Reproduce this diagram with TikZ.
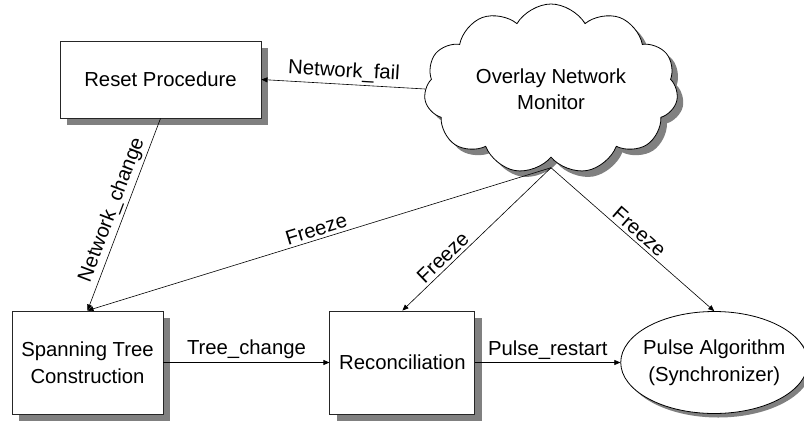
\documentclass[tikz,border=0pt]{standalone}
\usepackage{fontspec}
\setmainfont{Liberation Sans}
\usetikzlibrary{shapes.geometric, shapes.symbols, arrows.meta, positioning, shadows}

\tikzstyle{block} = [rectangle, align=center, draw=black!85, fill=white, line width=0.9pt,
                     inner sep=0pt, font=\fontsize{20.3}{26.5}\selectfont,
                     drop shadow={shadow xshift=7pt, shadow yshift=-7pt, fill=gray, opacity=1}]
\tikzstyle{monitor} = [cloud, cloud puffs=11, cloud puff arc=120, cloud ignores aspect,
                       minimum width=254pt, minimum height=170pt, align=center,
                       draw=black, fill=white, line width=0.8pt, inner sep=0pt,
                       font=\fontsize{20.3}{25.5}\selectfont,
                       drop shadow={shadow xshift=6pt, shadow yshift=-6pt, fill=gray, opacity=1}]
\tikzstyle{algo} = [ellipse, minimum width=187pt, minimum height=102pt, align=center,
                    inner xsep=-6pt, inner ysep=0pt, draw=black, fill=white, line width=0.8pt,
                    font=\fontsize{20.3}{26.5}\selectfont,
                    drop shadow={shadow xshift=4pt, shadow yshift=-4pt, fill=gray, opacity=1}]
\tikzstyle{arrow} = [-{Triangle[length=6pt, width=5pt]}, line width=0.6pt]
\tikzstyle{lbl} = [font=\fontsize{20.3}{24}\selectfont, sloped, above, inner sep=3pt]

\begin{document}
\begin{tikzpicture}[x=1pt, y=-1pt]
    \useasboundingbox (0,0) rectangle (804,424);

    % Top row
    \node[block, minimum width=201pt, minimum height=77pt] (reset) at (160.5,79.5) {Reset Procedure};
    \node[monitor] (monitor) at (551,89) {Overlay Network\\Monitor};
    \coordinate (freeze) at ([yshift=-10pt]monitor.south);

    % Bottom row
    \node[block, minimum width=151pt, minimum height=103pt] (span) at (87.5,362.5) {Spanning Tree\\Construction};
    \node[block, minimum width=145pt, minimum height=103pt, right=166pt of span] (recon) {Reconciliation};
    \node[algo, right=145pt of recon] (pulse) {Pulse Algorithm\\(Synchronizer)};

    % Monitor to reset
    \draw[arrow] (monitor.west) -- node[lbl] {Network\_fail} (reset.east);
    \draw[arrow] (reset.south) -- node[lbl] {Network\_change} (span.north);

    % Freeze signals
    \draw[arrow] (freeze) -- node[lbl] {Freeze} (span.north);
    \draw[arrow] (freeze) -- node[lbl, pos=0.68] {Freeze} (recon.north);
    \draw[arrow] (freeze) -- node[lbl] {Freeze} (pulse.north);

    % Bottom row arrows
    \draw[arrow] (span) -- node[lbl] {Tree\_change} (recon);
    \draw[arrow] (recon) -- node[lbl] {Pulse\_restart} (pulse);
\end{tikzpicture}
\end{document}
